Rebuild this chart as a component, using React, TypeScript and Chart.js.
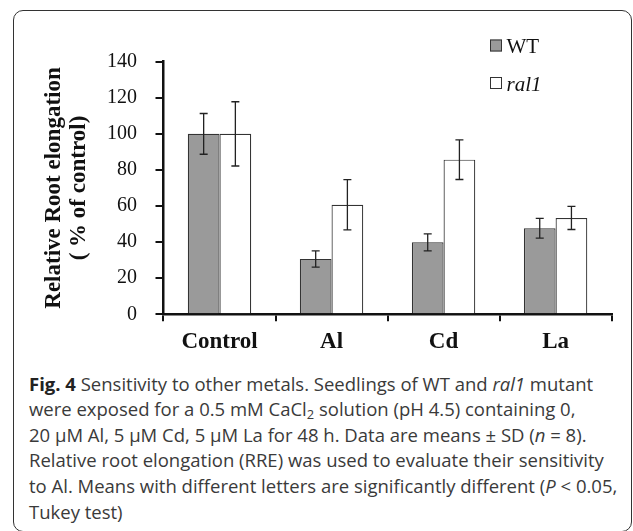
import React, { useEffect, useRef } from 'react';
import { Chart, registerables } from 'chart.js';

Chart.register(...registerables);

const categories = ['Control', 'Al', 'Cd', 'La'];
const seriesNames = ['WT', 'ral1'];
const wtMeans = [100, 30.7, 39.9, 47.7];
const wtSD = [11.3, 4.5, 4.7, 5.5];
const ral1Means = [100, 60.7, 85.7, 53.4];
const ral1SD = [17.8, 13.9, 11, 6.4];
const yMin = 0;
const yMax = 140;
const yStep = 20;
const yTitleLines = ['Relative Root elongation', '( % of control)'];

const errorBarPlugin = {
  id: 'errorBars',
  afterDatasetsDraw(chart: any) {
    const ctx = chart.ctx;
    const yScale = chart.scales.y;
    chart.data.datasets.forEach((ds: any, i: number) => {
      const meta = chart.getDatasetMeta(i);
      meta.data.forEach((bar: any, j: number) => {
        const v = ds.data[j];
        const e = ds.errors[j];
        const yTop = yScale.getPixelForValue(v + e);
        const yBot = yScale.getPixelForValue(v - e);
        const x = bar.x;
        ctx.save();
        ctx.strokeStyle = '#222';
        ctx.lineWidth = 1.3;
        ctx.beginPath();
        ctx.moveTo(x, yTop);
        ctx.lineTo(x, yBot);
        ctx.moveTo(x - 4, yTop);
        ctx.lineTo(x + 4, yTop);
        ctx.moveTo(x - 4, yBot);
        ctx.lineTo(x + 4, yBot);
        ctx.stroke();
        ctx.restore();
      });
    });
  },
};

const legendPlugin = {
  id: 'customLegend',
  afterDraw(chart: any) {
    const ctx = chart.ctx;
    chart.data.datasets.forEach((ds: any, i: number) => {
      const top = 39.5 + i * 37.5;
      ctx.save();
      ctx.fillStyle = ds.backgroundColor;
      ctx.fillRect(490, top, 12, 12);
      ctx.strokeStyle = '#333';
      ctx.lineWidth = 1;
      ctx.strokeRect(490.5, top + 0.5, 11, 11);
      ctx.font = (i === 1 ? 'italic ' : '') + '21px "Liberation Serif"';
      ctx.fillStyle = '#111';
      ctx.textBaseline = 'alphabetic';
      ctx.textAlign = 'left';
      ctx.fillText(ds.label, 506.5, top + 13.8);
      ctx.restore();
    });
  },
};

export default function App() {
  const canvasRef = useRef<HTMLCanvasElement | null>(null);

  useEffect(() => {
    if (!canvasRef.current) return;
    const chart = new Chart(canvasRef.current, {
      type: 'bar',
      data: {
        labels: categories,
        datasets: [
          {
            label: seriesNames[0],
            data: wtMeans,
            errors: wtSD,
            backgroundColor: '#9a9a9a',
            borderColor: '#333',
            borderWidth: 1.2,
            categoryPercentage: 0.566,
            barPercentage: 1,
          } as any,
          {
            label: seriesNames[1],
            data: ral1Means,
            errors: ral1SD,
            backgroundColor: '#ffffff',
            borderColor: '#333',
            borderWidth: 1.2,
            categoryPercentage: 0.566,
            barPercentage: 1,
          } as any,
        ],
      },
      options: {
        responsive: false,
        animation: false,
        devicePixelRatio: 1,
        layout: { padding: { left: 0, right: 21.4, top: 61.7, bottom: 0 } },
        plugins: {
          legend: { display: false },
          tooltip: { enabled: false },
        },
        scales: {
          x: {
            afterFit: (s: any) => {
              s.height = 50.7;
            },
            border: { display: true, color: '#111', width: 2.5 },
            grid: {
              display: true,
              drawOnChartArea: false,
              drawTicks: true,
              tickLength: 7,
              color: '#111',
              lineWidth: 2,
            },
            ticks: {
              color: '#111',
              padding: 6.6,
              font: { family: 'Liberation Serif', size: 23, weight: 'bold' },
            },
          },
          y: {
            min: yMin,
            max: yMax,
            afterFit: (s: any) => {
              s.width = 163.5;
            },
            border: { display: true, color: '#111', width: 2.5 },
            grid: {
              display: true,
              drawOnChartArea: false,
              drawTicks: true,
              tickLength: 8,
              color: '#111',
              lineWidth: 2,
            },
            ticks: {
              stepSize: yStep,
              color: '#111',
              padding: 18.5,
              font: { family: 'Liberation Serif', size: 20 },
            },
            title: {
              display: true,
              text: yTitleLines,
              color: '#111',
              font: { family: 'Liberation Serif', size: 23, weight: 'bold', lineHeight: 1.087 },
              padding: { top: 41.5, bottom: 0 },
            },
          },
        },
      } as any,
      plugins: [errorBarPlugin, legendPlugin],
    });
    return () => chart.destroy();
  }, []);

  const capStyle: React.CSSProperties = {
    position: 'absolute',
    left: 29,
    top: 370.7,
    fontFamily: '"Open Sans", sans-serif',
    fontSize: 18.5,
    lineHeight: '25.6px',
    color: '#3a3a3a',
    whiteSpace: 'nowrap',
  };
  const subStyle: React.CSSProperties = { fontSize: '0.7em', lineHeight: 0, verticalAlign: '-0.25em' };

  return (
    <div
      style={{
        position: 'fixed',
        left: 0,
        top: 0,
        width: 633,
        height: 531,
        overflow: 'hidden',
        background: '#fff',
      }}
    >
      <div
        style={{
          position: 'absolute',
          left: 13,
          top: 10,
          width: 617,
          height: 520,
          border: '1.5px solid #333',
          borderRadius: 10,
        }}
      />
      <canvas
        ref={canvasRef}
        width={633}
        height={365}
        style={{ position: 'absolute', left: 0, top: 0, width: 633, height: 365 }}
      />
      <div style={capStyle}>
        <div>
          <b style={{ color: '#222' }}>Fig. 4</b> Sensitivity to other metals. Seedlings of WT and <i>ral1</i> mutant
        </div>
        <div>
          were exposed for a 0.5 mM CaCl<sub style={subStyle}>2</sub> solution (pH 4.5) containing 0,
        </div>
        <div>
          20 µM Al, 5 µM Cd, 5 µM La for 48 h. Data are means ± SD (<i>n</i> = 8).
        </div>
        <div>Relative root elongation (RRE) was used to evaluate their sensitivity</div>
        <div>
          to Al. Means with different letters are significantly different (<i>P</i> &lt; 0.05,
        </div>
        <div>Tukey test)</div>
      </div>
    </div>
  );
}
